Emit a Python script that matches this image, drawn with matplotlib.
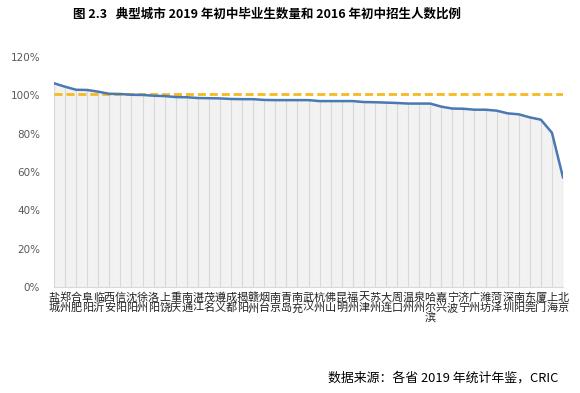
import numpy as np
import matplotlib.pyplot as plt

plt.rcParams['font.family'] = ['Noto Sans CJK SC', 'DejaVu Sans']

# 城市与比例（2019 初中毕业生 / 2016 初中招生）
cities = ['盐城', '郑州', '合肥', '阜阳', '临沂', '西安', '信阳', '沈阳', '徐州', '洛阳',
          '上饶', '重庆', '南通', '湛江', '茂名', '遵义', '成都', '揭阳', '赣州', '烟台',
          '南京', '青岛', '南充', '武汉', '杭州', '佛山', '昆明', '福州', '天津', '苏州',
          '大连', '周口', '温州', '泉州', '哈尔滨', '嘉兴', '宁波', '济宁', '广州', '潍坊',
          '菏泽', '深圳', '南阳', '东莞', '厦门', '上海', '北京']
ratio = [106.3, 104.5, 102.9, 102.8, 101.9, 100.8, 100.7, 100.3, 100.2, 99.8,
         99.6, 99.1, 99.0, 98.6, 98.5, 98.4, 98.1, 98.0, 98.0, 97.6,
         97.5, 97.5, 97.5, 97.5, 97.0, 97.0, 97.0, 97.0, 96.5, 96.4,
         96.2, 96.0, 95.7, 95.7, 95.7, 94.1, 93.1, 93.0, 92.5, 92.5,
         92.0, 90.6, 90.1, 88.5, 87.3, 80.5, 57.2]
ref_line = 100.5
yticks = [0, 20, 40, 60, 80, 100, 120]

x = np.arange(len(cities))
ratio = np.array(ratio)

fig = plt.figure(figsize=(5.8, 3.93), dpi=100)
ax = fig.add_axes([54 / 580, 1 - 287 / 393, (563 - 54) / 580, (287 - 57) / 393])

ax.fill_between(x, 0, ratio, color='#f2f2f2', lw=0, zorder=1)
ax.vlines(x, 0, ratio, color='#d9d9d9', lw=0.8, zorder=2)
ax.plot(x, ratio, color='#4a78b4', lw=1.8, zorder=4)
ax.plot([x[0], x[-1]], [ref_line, ref_line], color='#f5b921', lw=2,
        dashes=(2.9, 1.4), zorder=3)

ax.set_xlim(0, len(cities) - 1)
ax.set_ylim(0, 120)
ax.set_yticks(yticks)
ax.set_yticklabels([f'{v}%' for v in yticks], color='#595959', fontsize=7.5,
                   family=['DejaVu Sans'])
ax.tick_params(axis='y', length=0, pad=10)

ax.set_xticks(x)
ax.set_xticklabels(['\n'.join(c) for c in cities], fontsize=8, linespacing=1.0,
                   color='#222222')
ax.tick_params(axis='x', length=0, pad=4)

for s in ['top', 'right', 'left']:
    ax.spines[s].set_visible(False)
ax.spines['bottom'].set_color('#d9d9d9')
ax.spines['bottom'].set_linewidth(0.8)

fig.text(267 / 580, 1 - 14 / 393,
         '图 2.3   典型城市 2019 年初中毕业生数量和 2016 年初中招生人数比例',
         ha='center', va='center', fontsize=9, fontweight='bold')
fig.text(558 / 580, 1 - 378 / 393, '数据来源：各省 2019 年统计年鉴，CRIC',
         ha='right', va='center', fontsize=9.3)

fig.savefig('out.png', dpi=100)
